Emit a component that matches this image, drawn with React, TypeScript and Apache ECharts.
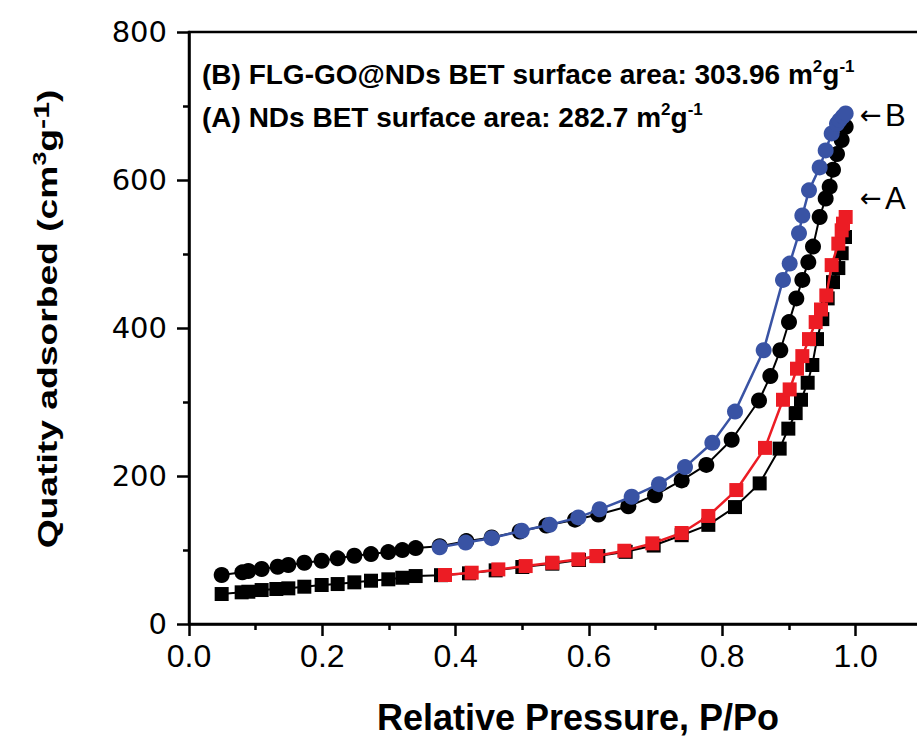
import React, { useEffect, useRef } from "react";
import * as echarts from "echarts";

// Relative pressure ticks / quantity ticks
const xTicks = [0.0, 0.2, 0.4, 0.6, 0.8, 1.0];
const yTicks = [0, 200, 400, 600, 800];

// (A) NDs – adsorption (black squares)
const ndsAdsX = [0.049, 0.079, 0.089, 0.109, 0.131, 0.149, 0.173, 0.199, 0.223, 0.248, 0.273, 0.299, 0.320, 0.340, 0.378, 0.420, 0.460, 0.500, 0.545, 0.585, 0.614, 0.655, 0.697, 0.739, 0.779, 0.819, 0.856, 0.886, 0.899, 0.910, 0.918, 0.928, 0.935, 0.942, 0.950, 0.958, 0.966, 0.974, 0.979, 0.984];
const ndsAdsY = [40.5, 42.8, 43.6, 45.9, 47.3, 48.2, 50.4, 52.7, 54.0, 56.3, 58.5, 60.4, 62.5, 64.8, 66.0, 68.5, 72.5, 77.0, 81.5, 86.5, 91.8, 97.5, 106, 120, 134, 158, 190, 237, 264, 285, 303, 326, 350, 385, 412, 440, 462, 481, 501, 523];

// (A) NDs – desorption (red squares)
const ndsDesX = [0.384, 0.424, 0.464, 0.505, 0.545, 0.584, 0.611, 0.653, 0.695, 0.739, 0.779, 0.821, 0.864, 0.891, 0.901, 0.912, 0.920, 0.930, 0.940, 0.948, 0.956, 0.964, 0.974, 0.979, 0.981, 0.985];
const ndsDesY = [66.2, 69.3, 73.8, 78.3, 82.8, 87.4, 91.8, 99, 109, 123, 146, 181, 238, 303, 317, 345, 362, 385, 408, 425, 444, 485, 514, 532, 541, 550];

// (B) FLG-GO@NDs – adsorption (black circles)
const flgAdsX = [0.049, 0.080, 0.089, 0.109, 0.133, 0.149, 0.173, 0.199, 0.223, 0.248, 0.273, 0.299, 0.320, 0.340, 0.376, 0.416, 0.454, 0.496, 0.536, 0.579, 0.614, 0.659, 0.699, 0.739, 0.776, 0.814, 0.855, 0.872, 0.887, 0.900, 0.911, 0.920, 0.929, 0.936, 0.946, 0.955, 0.961, 0.966, 0.972, 0.979, 0.985];
const flgAdsY = [66.2, 69.8, 71.6, 74.3, 77.4, 79.7, 82.8, 85.5, 88.7, 92.3, 94.5, 97.2, 99.9, 102.6, 105, 112, 117, 125, 133, 141, 148, 159, 174, 194, 215, 249, 302, 335, 370, 408, 440, 465, 489, 510, 550, 575, 591, 614, 635, 654, 672];

// (B) FLG-GO@NDs – desorption (blue circles)
const flgDesX = [0.376, 0.415, 0.454, 0.499, 0.541, 0.584, 0.616, 0.664, 0.705, 0.744, 0.785, 0.819, 0.862, 0.891, 0.901, 0.915, 0.920, 0.930, 0.946, 0.955, 0.964, 0.972, 0.976, 0.981, 0.985];
const flgDesY = [103.6, 110, 116, 126, 134, 144, 155, 172, 189, 212, 245, 287, 370, 465, 487, 528, 552, 586, 617, 640, 663, 676, 681, 686, 690];

const FONT = "'Liberation Sans', Arial, sans-serif";
const BLUE = "#3953a4";
const RED = "#ec1c24";

const zip = (xs: number[], ys: number[]) => xs.map((x, i) => [x, ys[i]]);

export default function App() {
  const ref = useRef<HTMLDivElement>(null);

  useEffect(() => {
    if (!ref.current) return;
    const chart = echarts.init(ref.current, undefined, { renderer: "svg" });

    const sup = { fontSize: 17, fontWeight: "bold", fontFamily: FONT, verticalAlign: "top", lineHeight: 17, fill: "#000" };
    const nrm = { fontSize: 28, fontWeight: "bold", fontFamily: FONT, lineHeight: 32, fill: "#000" };

    const mkSeries = (name: string, data: number[][], symbol: string, size: number, color: string, lw: number, z: number) => ({
      name,
      type: "line",
      data,
      symbol,
      symbolSize: size,
      showSymbol: true,
      z,
      lineStyle: { color, width: lw },
      itemStyle: { color, borderWidth: 0 },
    });

    const arrowRich = {
      a: { fontSize: 26, fontFamily: "'DejaVu Sans', sans-serif", fill: "#000" },
      l: { fontSize: 31, fontFamily: FONT, fill: "#000" },
    };

    chart.setOption({
      animation: false,
      backgroundColor: "#fff",
      grid: {
        left: 189,
        top: 32,
        width: 800,
        height: 592,
        outerBoundsMode: "none",
        containLabel: false,
        show: true,
        borderColor: "#000",
        borderWidth: 2.5,
        backgroundColor: "transparent",
      },
      xAxis: {
        type: "value",
        min: 0,
        max: 1.2,
        interval: 0.2,
        axisLine: { show: true, lineStyle: { color: "#000", width: 2.5 } },
        axisTick: { show: true, length: 12, lineStyle: { color: "#000", width: 2.5 } },
        minorTick: { show: true, splitNumber: 2, length: 6, lineStyle: { color: "#000", width: 2.5 } },
        splitLine: { show: false },
        minorSplitLine: { show: false },
        axisLabel: {
          margin: 16,
          fontSize: 32,
          fontFamily: FONT,
          color: "#000",
          showMaxLabel: false,
          formatter: (v: number) => {
            const t = xTicks.find((k) => Math.abs(k - v) < 1e-6);
            return t === undefined ? "" : t.toFixed(1);
          },
        },
        name: "Relative Pressure, P/Po",
        nameLocation: "middle",
        nameGap: 75,
        nameTextStyle: { fontSize: 36, fontWeight: "bold", fontFamily: FONT, color: "#000", padding: [0, 22, 0, 0] },
      },
      yAxis: {
        type: "value",
        min: 0,
        max: 800,
        interval: 200,
        axisLine: { show: true, lineStyle: { color: "#000", width: 2.5 } },
        axisTick: { show: true, length: 12, lineStyle: { color: "#000", width: 2.5 } },
        minorTick: { show: true, splitNumber: 2, length: 6, lineStyle: { color: "#000", width: 2.5 } },
        splitLine: { show: false },
        minorSplitLine: { show: false },
        axisLabel: {
          margin: 22,
          fontSize: 29,
          fontFamily: "'DejaVu Sans', sans-serif",
          color: "#000",
          formatter: (v: number) => (yTicks.includes(v) ? String(v) : ""),
        },
      },
      series: [
        mkSeries("NDs adsorption", zip(ndsAdsX, ndsAdsY), "rect", 14, "#000", 2, 2),
        mkSeries("FLG-GO@NDs adsorption", zip(flgAdsX, flgAdsY), "circle", 16, "#000", 2, 3),
        mkSeries("NDs desorption", zip(ndsDesX, ndsDesY), "rect", 14, RED, 2.5, 4),
        mkSeries("FLG-GO@NDs desorption", zip(flgDesX, flgDesY), "circle", 16, BLUE, 2.5, 5),
      ],
      graphic: [
        {
          type: "text",
          x: 48,
          y: 319,
          rotation: Math.PI / 2,
          scaleX: 1.38,
          style: {
            text: "{n|Quatity adsorbed (cm}{s|3}{n|g}{t|-1}{n|)}",
            align: "center",
            verticalAlign: "middle",
            rich: {
              n: { fontSize: 27, fontWeight: "bold", fontFamily: FONT, lineHeight: 34, fill: "#000" },
              s: { fontSize: 18, fontWeight: "bold", fontFamily: FONT, lineHeight: 18, verticalAlign: "top", fill: "#000" },
              t: { fontSize: 22, fontWeight: "bold", fontFamily: FONT, lineHeight: 22, verticalAlign: "top", fill: "#000" },
            },
          },
        },
        {
          type: "text",
          x: 202,
          y: 74,
          style: {
            text: "{n|(B) FLG-GO@NDs BET surface area: 303.96 m}{s|2}{n|g}{s|-1}",
            align: "left",
            verticalAlign: "middle",
            rich: { n: nrm, s: sup },
          },
        },
        {
          type: "text",
          x: 202,
          y: 117,
          style: {
            text: "{n|(A) NDs BET surface area: 282.7 m}{s|2}{n|g}{s|-1}",
            align: "left",
            verticalAlign: "middle",
            rich: { n: nrm, s: sup },
          },
        },
        {
          type: "text",
          x: 860,
          y: 115,
          style: { text: "{a|←} {l|B}", align: "left", verticalAlign: "middle", rich: arrowRich },
        },
        {
          type: "text",
          x: 860,
          y: 198,
          style: { text: "{a|←} {l|A}", align: "left", verticalAlign: "middle", rich: arrowRich },
        },
      ],
    });

    return () => chart.dispose();
  }, []);

  return (
    <div
      ref={ref}
      style={{ position: "absolute", left: 0, top: 0, width: 917, height: 737, background: "#fff" }}
    />
  );
}
